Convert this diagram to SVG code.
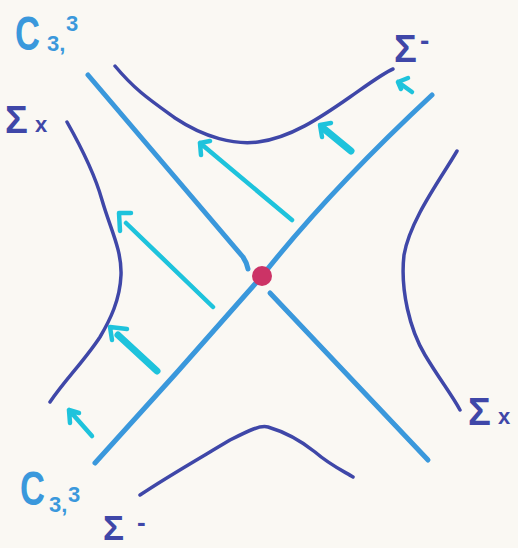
<svg xmlns="http://www.w3.org/2000/svg" width="518" height="548" viewBox="0 0 518 548">
<style>
.ax{fill:none;stroke:#3a98dc;stroke-width:5;stroke-linecap:round;stroke-linejoin:round}
.cv{fill:none;stroke:#3f47a8;stroke-width:3.5;stroke-linecap:round;stroke-linejoin:round}
.ar{fill:none;stroke:#1ec3dc;stroke-width:4.5;stroke-linecap:round;stroke-linejoin:round}
.arb{fill:none;stroke:#1ec3dc;stroke-width:7;stroke-linecap:round;stroke-linejoin:round}
.lc{fill:#3a98dc;font-family:"Liberation Sans",Arial,sans-serif;font-weight:bold}
.ls{fill:#3f47a8;font-family:"Liberation Sans",Arial,sans-serif;font-weight:bold}
</style>
<rect width="518" height="548" fill="#faf8f3"/>
<g id="connectors">
  <path class="ax" d="M88,75 L243,257 Q247,263 248,269"/>
  <path class="ax" d="M270,293 L428,460"/>
  <path class="ax" d="M432,95 Q330,190 262,276 Q180,370 95,463"/>
  <g id="arrows">
    <path class="ar" d="M292,220 L200,143 M200,143 L210,141 M200,143 L201,155"/>
    <path class="arb" d="M351,151 L323,128"/>
    <path class="ar" d="M320,125 L331,123 M320,125 L322,137"/>
    <path class="ar" d="M412,92 L398,82 M398,82 L408,78 M398,82 L401,89"/>
    <path class="ar" d="M213,307 L126,223 M119,213 L131,213 M119,213 L120,231"/>
    <path class="arb" d="M157,371 L118,335"/>
    <path class="ar" d="M110,327 L127,329 M110,327 L112,340"/>
    <path class="ar" d="M92,436 L69,410 M69,410 L79,413 M69,410 L70,423"/>
  </g>
</g>
<g id="sigma-top"><path class="cv" d="M115,66 C135,90 150,100 175,118 C205,138 235,145 258,142 C290,138 320,118 350,97 C370,83 385,72 393,69"/></g>
<g id="sigma-left"><path class="cv" d="M67,122 C80,145 95,175 102,200 C110,228 122,250 121,275 C120,300 110,320 100,337 C85,360 65,380 50,402"/></g>
<g id="sigma-right"><path class="cv" d="M457,151 C440,180 410,220 404,255 C400,290 410,330 425,355 C440,380 452,395 460,410"/></g>
<g id="sigma-bottom"><path class="cv" d="M140,495 C165,478 200,458 230,440 C250,430 260,425 268,427 C285,432 300,440 315,452 C330,465 345,472 353,477"/></g>
<g id="origin"><circle cx="262" cy="276" r="10" fill="#cc3366"/></g>
<g id="label-c-top"><text class="lc" font-size="48" transform="translate(15,50) scale(0.72,1)">C</text><text class="lc" x="47" y="51" font-size="22">3,</text><text class="lc" x="66" y="31" font-size="22">3</text></g>
<g id="label-c-bottom"><text class="lc" font-size="48" transform="translate(20,505) scale(0.72,1)">C</text><text class="lc" x="49" y="512" font-size="22">3,</text><text class="lc" x="68" y="502" font-size="22">3</text></g>
<g id="label-sm-top"><text class="ls" x="394" y="62" font-size="38">Σ</text><text class="ls" x="420" y="50" font-size="28">-</text></g>
<g id="label-sx-left"><text class="ls" x="5" y="133" font-size="38">Σ</text><text class="ls" x="35" y="132" font-size="22">x</text></g>
<g id="label-sx-right"><text class="ls" x="468" y="425" font-size="38">Σ</text><text class="ls" x="498" y="424" font-size="22">x</text></g>
<g id="label-sm-bottom"><text class="ls" x="103" y="540" font-size="35">Σ</text><text class="ls" x="137" y="531" font-size="26">-</text></g>
</svg>
